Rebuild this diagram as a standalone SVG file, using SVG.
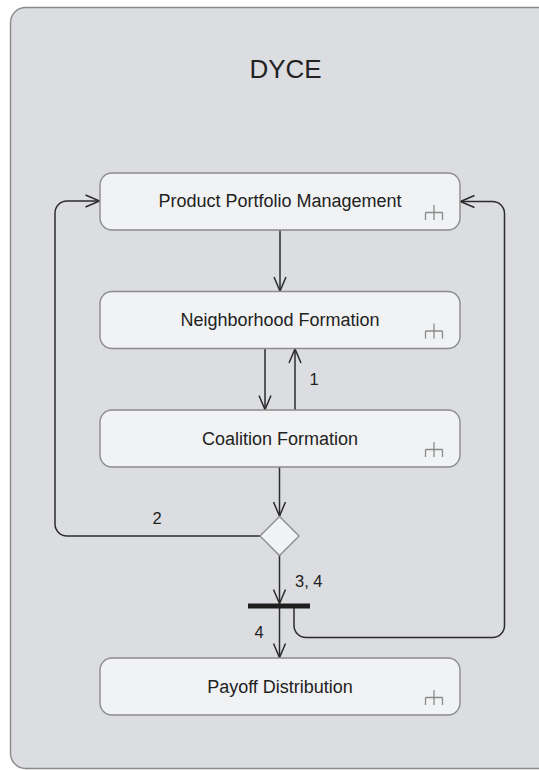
<svg xmlns="http://www.w3.org/2000/svg" width="539" height="770" viewBox="0 0 539 770">
  <style>
    .frame { fill: #dcdde0; stroke: #8a8a8a; stroke-width: 1.4; }
    .node { fill: #f1f2f4; stroke: #8c8c8c; stroke-width: 1.4; }
    .label { font-family: "Liberation Sans", Arial, sans-serif; font-size: 18px; fill: #222; text-anchor: middle; }
    .title { font-family: "Liberation Sans", Arial, sans-serif; font-size: 26px; fill: #222; text-anchor: middle; }
    .edge-label { font-family: "Liberation Sans", Arial, sans-serif; font-size: 16.5px; fill: #222; }
    .icon { fill: none; stroke: #8a8a8a; stroke-width: 1.3; }
    .flow { fill: none; stroke: #2b2b2b; stroke-width: 1.5; }
  </style>
  <defs>
    <marker id="open-arrow" markerUnits="userSpaceOnUse" viewBox="-16 -8 18 16" refX="0" refY="0" markerWidth="18" markerHeight="16" orient="auto">
      <path d="M -14 -6 L 0 0 L -14 6" fill="none" stroke="#2b2b2b" stroke-width="1.5"/>
    </marker>
    <!-- sub-activity rake glyph -->
    <g id="rake">
      <path class="icon" d="M 0 0 V 15 M -8.5 7.5 H 8.5 M -8.5 7.5 V 15 M 8.5 7.5 V 15"/>
    </g>
  </defs>

  <!-- enclosing activity frame -->
  <g id="activity-dyce">
    <rect class="frame" x="10.5" y="7.5" width="560" height="761" rx="15"/>
    <text class="title" x="285.5" y="78">DYCE</text>
  </g>

  <g id="connectors">
    <path class="flow" d="M 280 230 V 291" marker-end="url(#open-arrow)"/>
    <path class="flow" d="M 265 348.5 V 409.5" marker-end="url(#open-arrow)"/>
    <path class="flow" d="M 295 410 V 349" marker-end="url(#open-arrow)"/>
    <path class="flow" d="M 279.5 467 V 516" marker-end="url(#open-arrow)"/>
    <path class="flow" d="M 260 536 H 67 A 12 12 0 0 1 55 524 V 213 A 12 12 0 0 1 67 201 H 99.5" marker-end="url(#open-arrow)"/>
    <path class="flow" d="M 279.5 555 V 603.5" marker-end="url(#open-arrow)"/>
    <path class="flow" d="M 279.5 606 V 657.5" marker-end="url(#open-arrow)"/>
    <path class="flow" d="M 294 608 V 625.5 A 12 12 0 0 0 306 637.5 H 492.5 A 12 12 0 0 0 504.5 625.5 V 213.5 A 12 12 0 0 0 492.5 201.5 H 460.5" marker-end="url(#open-arrow)"/>
    <text class="edge-label" x="309.5" y="385">1</text>
    <text class="edge-label" x="152.5" y="524">2</text>
    <text class="edge-label" x="295" y="587">3, 4</text>
    <text class="edge-label" x="254.5" y="638">4</text>
  </g>

  <g id="node-product-portfolio-management">
    <rect class="node" x="100" y="173" width="360" height="57" rx="12"/>
    <text class="label" x="280" y="207">Product Portfolio Management</text>
    <use href="#rake" x="434" y="205"/>
  </g>

  <g id="node-neighborhood-formation">
    <rect class="node" x="100" y="291.5" width="360" height="57" rx="12"/>
    <text class="label" x="280" y="326">Neighborhood Formation</text>
    <use href="#rake" x="434" y="323.5"/>
  </g>

  <g id="node-coalition-formation">
    <rect class="node" x="100" y="410" width="360" height="57" rx="12"/>
    <text class="label" x="280" y="444.5">Coalition Formation</text>
    <use href="#rake" x="434" y="442"/>
  </g>

  <g id="node-decision">
    <polygon class="node" points="279.5,516.5 299,536 279.5,555.5 260,536"/>
  </g>

  <g id="node-fork">
    <rect x="248" y="603.5" width="62" height="5" fill="#1e1e1e"/>
  </g>

  <g id="node-payoff-distribution">
    <rect class="node" x="100" y="658" width="360" height="57" rx="12"/>
    <text class="label" x="280" y="692.5">Payoff Distribution</text>
    <use href="#rake" x="434" y="690"/>
  </g>
</svg>
